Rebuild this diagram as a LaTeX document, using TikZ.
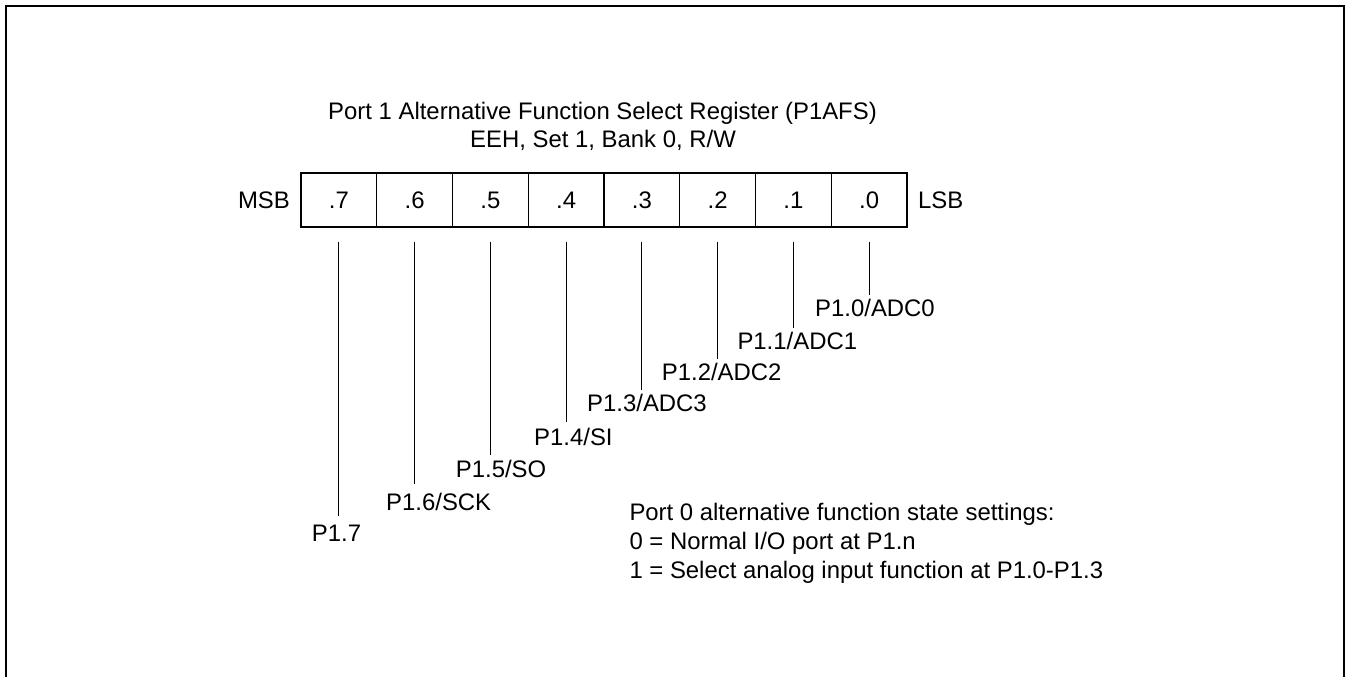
\documentclass[tikz,border=0pt]{standalone}
\usepackage{fontspec}
\setmainfont{Liberation Sans}
\usetikzlibrary{calc}
\begin{document}
\begin{tikzpicture}[x=1pt,y=-1pt,
  txt/.style={font=\fontsize{23.9}{27}\selectfont, inner sep=0pt},
  cell/.style={draw, line width=1.1pt, minimum width=75.75pt, minimum height=54pt, inner sep=0pt, font=\fontsize{23.9}{27}\selectfont},
  lead/.style={line width=1.2pt},
  frame/.style={line width=2pt}]
\useasboundingbox (0,0) rectangle (1353,677);
\draw[frame] (5.8,700) -- (5.8,6.5) -- (1344,6.5) -- (1344,700);
% title
\node[txt, anchor=base] (t1) at (602.5,120) {Port 1 Alternative Function Select Register (P1AFS)};
\node[txt, anchor=base] (t2) at (603,147) {EEH, Set 1, Bank 0, R/W};
% register
\foreach \i/\n in {0/7,1/6,2/5,3/4,4/3,5/2,6/1,7/0}{
  \node[cell] (c\n) at ({301+75.75*\i+37.875},200) {.\n};
}
\node[txt, anchor=east] (msb) at (290,200) {MSB};
\node[txt, anchor=west] (lsb) at (918,200) {LSB};
% labels
\node[txt, anchor=base west] (l7) at (311.7,541.5) {P1.7};
\node[txt, anchor=base west] (l6) at (386,510) {P1.6/SCK};
\node[txt, anchor=base west] (l5) at (455.7,477.7) {P1.5/SO};
\node[txt, anchor=base west] (l4) at (534,445) {P1.4/SI};
\node[txt, anchor=base west] (l3) at (587,411.7) {P1.3/ADC3};
\node[txt, anchor=base west] (l2) at (661.7,380) {P1.2/ADC2};
\node[txt, anchor=base west] (l1) at (737.3,349) {P1.1/ADC1};
\node[txt, anchor=base west] (l0) at (815,316) {P1.0/ADC0};
% lead lines
\foreach \n/\e in {7/516,6/484,5/455,4/421.7,3/390,2/359.3,1/328.3,0/295}{
  \coordinate (s\n) at ($(c\n.south)+(0,14)$);
  \coordinate (e\n) at (c\n.south |- 0,\e);
  \draw[lead] (s\n) -- (e\n);
}
% legend
\node[txt, anchor=base west] (g1) at (629.3,520) {Port 0 alternative function state settings:};
\node[txt, anchor=base west] (g2) at (629.3,549) {0 = Normal I/O port at P1.n};
\node[txt, anchor=base west] (g3) at (629.3,578) {1 = Select analog input function at P1.0-P1.3};
\end{tikzpicture}
\end{document}
